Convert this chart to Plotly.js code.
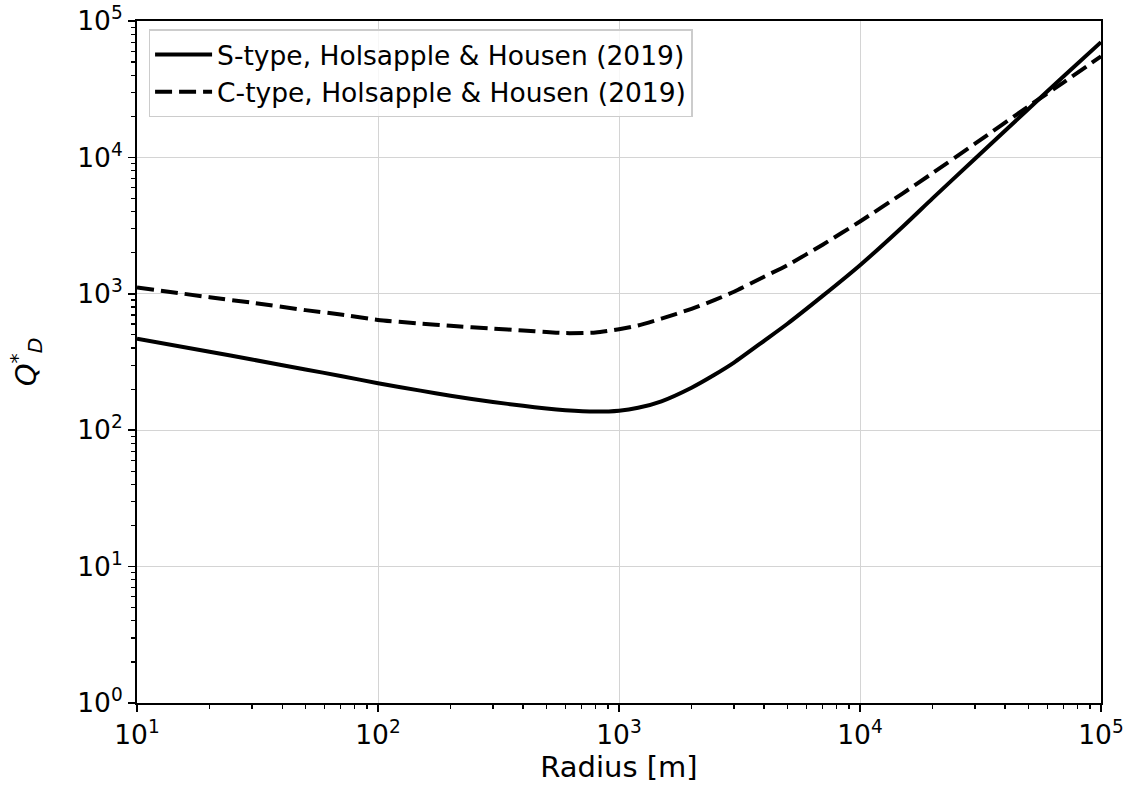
<!DOCTYPE html>
<html>
<head>
<meta charset="utf-8">
<script src="https://cdn.plot.ly/plotly-3.0.1.min.js"></script>
<style>html,body{margin:0;padding:0;background:#fff;}#chart{width:1131px;height:797px;}</style>
</head>
<body>
<div id="chart"></div>
<script>
// Radius [m]
const radius = [10, 20, 30, 50, 70, 100, 150, 200, 300, 400, 500, 600, 800, 1000, 1200, 1500, 2000, 2500, 3000, 4000, 5000, 7000, 10000, 15000, 20000, 30000, 50000, 70000, 100000];
// Q*_D, S-type (Holsapple & Housen 2019)
const qS = [468, 376, 330, 279, 250, 221, 195, 179, 161, 151, 144, 140, 137, 139, 146, 163, 205, 256, 313, 452, 603, 965, 1620, 3090, 5010, 9770, 22650, 39400, 70000];
// Q*_D, C-type (Holsapple & Housen 2019)
const qC = [1112, 944, 860, 759, 705, 643, 605, 582, 556, 538, 524, 515, 520, 550, 586, 658, 776, 902, 1035, 1334, 1622, 2291, 3390, 5430, 7670, 12600, 23700, 35500, 55100];

const names = ['S-type, Holsapple &amp; Housen (2019)', 'C-type, Holsapple &amp; Housen (2019)'];

// tick labels
const xTickVals = [10, 100, 1000, 10000, 100000];
const xTickText = ['10<sup>1</sup>', '10<sup>2</sup>', '10<sup>3</sup>', '10<sup>4</sup>', '10<sup>5</sup>'];
const yTickVals = [1, 10, 100, 1000, 10000, 100000];
const yTickText = ['10<sup>0</sup>', '10<sup>1</sup>', '10<sup>2</sup>', '10<sup>3</sup>', '10<sup>4</sup>', '10<sup>5</sup>'];

function minorTicks(decades) {
  const out = [];
  decades.slice(0, -1).forEach(function (d) {
    for (let k = 2; k <= 9; k++) out.push(k * d);
  });
  return out;
}

const FAM = 'DejaVu Sans, sans-serif';
const tickFont = () => ({family: FAM, size: 26.5, color: '#000'});
const titleFont = () => ({family: FAM, size: 29, color: '#000'});
const legendFont = () => ({family: FAM, size: 26.5, color: '#000'});

const traces = [
  {x: radius, y: qS, name: names[0], mode: 'lines', line: {color: '#000', width: 4, shape: 'spline', smoothing: 0.6}},
  {x: radius, y: qC, name: names[1], mode: 'lines', line: {color: '#000', width: 4, dash: '17px,7px', shape: 'spline', smoothing: 0.6}}
];

function axis(vals, text, extra) {
  return Object.assign({
    type: 'log',
    showline: true, mirror: true, linecolor: '#000', linewidth: 2,
    ticks: 'outside', ticklen: 7, tickwidth: 1.5, tickcolor: '#000',
    showgrid: true, gridcolor: '#d4d4d4', gridwidth: 1,
    zeroline: false,
    tickmode: 'array', tickvals: vals, ticktext: text,
    tickfont: tickFont(),
    minor: {tickmode: 'array', tickvals: minorTicks(vals), ticks: 'outside', ticklen: 4, tickwidth: 1.2, tickcolor: '#000', showgrid: false}
  }, extra);
}

const layout = {
  width: 1131, height: 797,
  margin: {l: 137, r: 30, t: 21, b: 94},
  paper_bgcolor: '#fff', plot_bgcolor: '#fff',
  font: {family: FAM, size: 26.5, color: '#000'},
  showlegend: true,
  legend: {x: 0.012, y: 0.988, xanchor: 'left', yanchor: 'top', itemwidth: 57, bgcolor: 'rgba(255,255,255,0.8)', bordercolor: '#cccccc', borderwidth: 1.5, font: legendFont(), tracegroupgap: 0},
  xaxis: axis(xTickVals, xTickText, {range: [1, 5], title: {text: 'Radius [m]', font: titleFont(), standoff: 6}}),
  yaxis: axis(yTickVals, yTickText, {range: [0, 5], title: {text: '<i>Q</i><sup>*</sup><sub><i>D</i></sub>', font: titleFont(), standoff: 32}})
};

Plotly.newPlot('chart', traces, layout, {displayModeBar: false, staticPlot: true});
</script>
</body>
</html>
